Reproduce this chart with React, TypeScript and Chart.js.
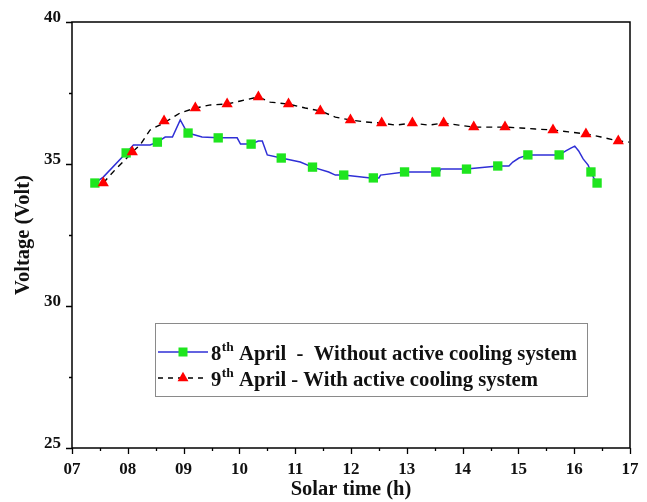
import React, { useEffect, useRef } from 'react';
import { Chart, registerables } from 'chart.js';

Chart.register(...registerables);

// ---- axis ticks ----
const xMin = 7;
const xMax = 17;
const yMin = 25;
const yMax = 40;
const xStep = 1;
const yStep = 5;
const xTitle = 'Solar time (h)';
const yTitle = 'Voltage (Volt)';

// ---- 8th April: line trace (solar time h, voltage V) ----
const blueLineT = [7.41, 7.56, 7.97, 8.10, 8.40, 8.53, 8.67, 8.80, 8.94, 9.05, 9.08, 9.33, 9.62, 9.96, 10.02, 10.21, 10.34, 10.41, 10.50, 10.75, 11.09, 11.31, 11.60, 11.72, 11.87, 12.35, 12.40, 12.50, 12.53, 12.96, 13.52, 13.58, 13.61, 14.07, 14.63, 14.83, 14.90, 15.01, 15.17, 15.73, 15.85, 15.94, 16.01, 16.08, 16.16, 16.25, 16.30, 16.35, 16.41];
const blueLineV = [34.33, 34.54, 35.39, 35.67, 35.67, 35.77, 35.95, 35.95, 36.55, 36.16, 36.09, 35.95, 35.92, 35.92, 35.70, 35.70, 35.81, 35.81, 35.32, 35.21, 35.07, 34.89, 34.72, 34.61, 34.61, 34.51, 34.51, 34.51, 34.61, 34.72, 34.72, 34.72, 34.82, 34.82, 34.93, 34.93, 35.07, 35.21, 35.32, 35.32, 35.46, 35.56, 35.63, 35.46, 35.18, 34.96, 34.72, 34.51, 34.33];
// ---- 8th April: markers ----
const blueMarkT = [7.41, 7.97, 8.53, 9.08, 9.62, 10.21, 10.75, 11.31, 11.87, 12.40, 12.96, 13.52, 14.07, 14.63, 15.17, 15.73, 16.30, 16.41];
const blueMarkV = [34.33, 35.39, 35.77, 36.09, 35.92, 35.70, 35.21, 34.89, 34.61, 34.51, 34.72, 34.72, 34.82, 34.93, 35.32, 35.32, 34.72, 34.33];

// ---- 9th April: line trace ----
const redLineT = [7.56, 7.77, 7.95, 8.08, 8.22, 8.40, 8.65, 8.94, 9.21, 9.48, 9.78, 10.02, 10.34, 10.55, 10.88, 11.18, 11.45, 11.72, 11.99, 12.26, 12.55, 12.80, 13.10, 13.39, 13.66, 13.93, 14.20, 14.50, 14.76, 15.04, 15.31, 15.62, 15.90, 16.21, 16.48, 16.79, 16.98];
const redLineV = [34.33, 34.79, 35.14, 35.42, 35.67, 36.20, 36.45, 36.80, 36.97, 37.08, 37.11, 37.22, 37.36, 37.18, 37.11, 36.97, 36.87, 36.65, 36.55, 36.48, 36.44, 36.37, 36.44, 36.37, 36.44, 36.37, 36.30, 36.30, 36.30, 36.27, 36.23, 36.20, 36.13, 36.06, 35.95, 35.81, 35.77];
// ---- 9th April: markers ----
const redMarkT = [7.56, 8.08, 8.65, 9.21, 9.78, 10.34, 10.88, 11.45, 11.99, 12.55, 13.10, 13.66, 14.20, 14.76, 15.62, 16.21, 16.79];
const redMarkV = [34.33, 35.42, 36.51, 36.97, 37.11, 37.36, 37.11, 36.87, 36.55, 36.44, 36.44, 36.44, 36.30, 36.30, 36.20, 36.06, 35.81];

// ---- legend text ----
const legendDay = ['8', '9'];
const legendSup = ['th', 'th'];
const legendRest = [' April  -  Without active cooling system', ' April - With active cooling system'];

const FONT = '"Liberation Serif", "Times New Roman", serif';
const BLUE = '#2f2fd6';
const GREEN = '#1ee51e';
const RED = '#ff0000';

const zip = (t: number[], v: number[]) => t.map((x, i) => ({ x, y: v[i] }));

const framePlugin = {
  id: 'frameTicks',
  afterDraw(chart: any) {
    const { ctx, chartArea: a, scales } = chart;
    const xs = scales.x;
    const ys = scales.y;
    ctx.save();
    ctx.strokeStyle = '#000';
    ctx.lineWidth = 1.5;
    ctx.strokeRect(a.left, a.top, a.right - a.left, a.bottom - a.top);
    ctx.lineWidth = 1.3;
    ctx.beginPath();
    for (let v = xMin; v <= xMax + 1e-9; v += xStep / 2) {
      const px = Math.round(xs.getPixelForValue(v)) + 0.5;
      const major = Math.abs(v - Math.round(v)) < 1e-9;
      ctx.moveTo(px, a.bottom);
      ctx.lineTo(px, a.bottom + (major ? 6 : 3));
    }
    for (let v = yMin; v <= yMax + 1e-9; v += yStep / 2) {
      const py = Math.round(ys.getPixelForValue(v)) + 0.5;
      const major = Math.abs((v - yMin) % yStep) < 1e-9;
      ctx.moveTo(a.left, py);
      ctx.lineTo(a.left - (major ? 6 : 3), py);
    }
    ctx.stroke();
    ctx.restore();
  },
};

const legendPlugin = {
  id: 'customLegend',
  afterDatasetsDraw(chart: any) {
    const { ctx } = chart;
    const bx = 155, by = 323, bw = 432, bh = 73;
    ctx.save();
    ctx.fillStyle = '#fff';
    ctx.fillRect(bx, by, bw, bh);
    ctx.strokeStyle = '#8a8a8a';
    ctx.lineWidth = 1;
    ctx.strokeRect(bx + 0.5, by + 0.5, bw, bh);

    const rows = [352, 378];
    // row 1 sample
    ctx.strokeStyle = BLUE;
    ctx.lineWidth = 1.5;
    ctx.beginPath();
    ctx.moveTo(158, rows[0]);
    ctx.lineTo(208, rows[0]);
    ctx.stroke();
    ctx.fillStyle = GREEN;
    ctx.fillRect(183 - 4.5, rows[0] - 4.5, 9, 9);
    // row 2 sample
    ctx.strokeStyle = '#000';
    ctx.setLineDash([5, 5]);
    ctx.beginPath();
    ctx.moveTo(158, rows[1]);
    ctx.lineTo(208, rows[1]);
    ctx.stroke();
    ctx.setLineDash([]);
    ctx.fillStyle = RED;
    const r = 6.3;
    ctx.beginPath();
    ctx.moveTo(183, rows[1] - r);
    ctx.lineTo(183 + r * 0.866, rows[1] + r / 2);
    ctx.lineTo(183 - r * 0.866, rows[1] + r / 2);
    ctx.closePath();
    ctx.fill();

    ctx.fillStyle = '#111';
    ctx.textBaseline = 'alphabetic';
    ctx.textAlign = 'left';
    for (let i = 0; i < 2; i++) {
      let x = 211;
      const base = rows[i] + 8;
      ctx.font = `bold 20.7px ${FONT}`;
      ctx.fillText(legendDay[i], x, base);
      x += ctx.measureText(legendDay[i]).width + 0.5;
      ctx.font = `bold 13.5px ${FONT}`;
      ctx.fillText(legendSup[i], x, base - 9);
      x += ctx.measureText(legendSup[i]).width;
      ctx.font = `bold 20.7px ${FONT}`;
      ctx.fillText(legendRest[i], x, base);
    }
    ctx.restore();
  },
};

export default function App() {
  const ref = useRef<HTMLCanvasElement>(null);
  useEffect(() => {
    if (!ref.current) return;
    const chart = new Chart(ref.current, {
      type: 'line',
      data: {
        datasets: [
          {
            label: 'blueMarkers',
            data: zip(blueMarkT, blueMarkV),
            showLine: false,
            pointStyle: 'rect',
            pointRadius: 6.6,
            pointBackgroundColor: GREEN,
            pointBorderColor: GREEN,
            pointBorderWidth: 0,
            order: 1,
          },
          {
            label: 'redMarkers',
            data: zip(redMarkT, redMarkV),
            showLine: false,
            pointStyle: 'triangle',
            pointRadius: 6.5,
            pointBackgroundColor: RED,
            pointBorderColor: RED,
            pointBorderWidth: 0,
            order: 0,
          },
          {
            label: '8th April - Without active cooling system',
            data: zip(blueLineT, blueLineV),
            borderColor: BLUE,
            borderWidth: 1.5,
            pointRadius: 0,
            tension: 0,
            order: 3,
          },
          {
            label: '9th April - With active cooling system',
            data: zip(redLineT, redLineV),
            borderColor: '#000',
            borderWidth: 1.4,
            borderDash: [6, 5],
            pointRadius: 0,
            tension: 0,
            order: 2,
          },
        ],
      },
      options: {
        animation: false,
        responsive: false,
        devicePixelRatio: 1,
        layout: { padding: { left: 0, top: 22, right: 17, bottom: 0 } },
        plugins: { legend: { display: false }, tooltip: { enabled: false } },
        scales: {
          x: {
            type: 'linear',
            min: xMin,
            max: xMax,
            grid: { display: false, drawTicks: false },
            border: { display: false },
            ticks: {
              stepSize: xStep,
              padding: 11,
              color: '#111',
              font: { family: FONT, size: 17, weight: 'bold' },
              callback: (v: any) => String(v).padStart(2, '0'),
              maxRotation: 0,
            },
            title: {
              display: true,
              text: xTitle,
              color: '#111',
              font: { family: FONT, size: 20.5, weight: 'bold' },
              padding: { top: 0, bottom: 0 },
            },
            afterFit: (s: any) => { s.height = 54; s.paddingLeft = 0; s.paddingRight = 0; },
          },
          y: {
            type: 'linear',
            min: yMin,
            max: yMax,
            grid: { display: false, drawTicks: false },
            border: { display: false },
            ticks: {
              stepSize: yStep,
              padding: 11,
              labelOffset: -4,
              color: '#111',
              font: { family: FONT, size: 17, weight: 'bold' },
            },
            title: {
              display: true,
              text: yTitle,
              color: '#111',
              font: { family: FONT, size: 20.5, weight: 'bold' },
              padding: { top: 11, bottom: 0 },
            },
            afterFit: (s: any) => { s.width = 72; s.paddingTop = 0; s.paddingBottom = 0; },
          },
        },
      },
      plugins: [framePlugin, legendPlugin],
    });
    return () => chart.destroy();
  }, []);
  return (
    <div style={{ position: 'absolute', left: 0, top: 0, width: 647, height: 502, background: '#fff' }}>
      <canvas ref={ref} width={647} height={502} />
    </div>
  );
}
